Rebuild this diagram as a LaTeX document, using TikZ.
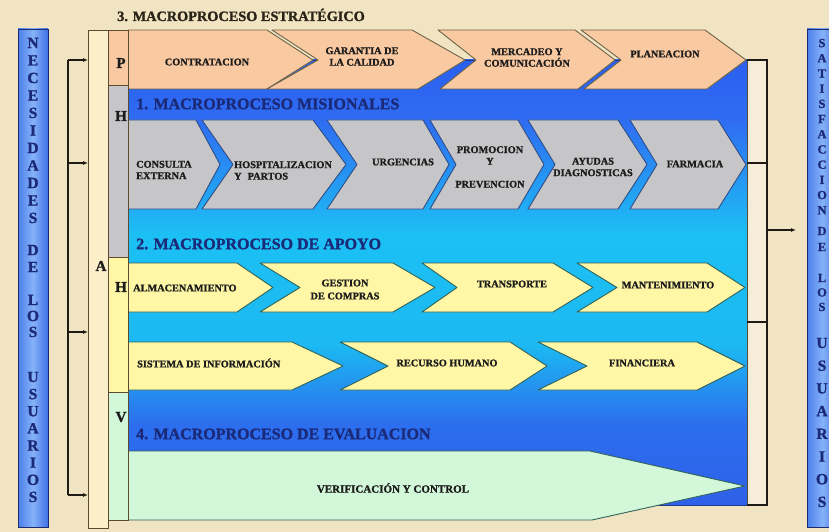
\documentclass[tikz,border=0pt]{standalone}
\usepackage{fontspec}
\setmainfont{Liberation Serif}[BoldFeatures={FakeBold=1.3}]
\usetikzlibrary{arrows.meta}
\definecolor{paper}{HTML}{F1E4C3}
\definecolor{peach}{HTML}{F9C9A1}
\definecolor{grayc}{HTML}{C6C6C8}
\definecolor{yellowc}{HTML}{FFF7A6}
\definecolor{greenc}{HTML}{D2F7D9}
\definecolor{barbeige}{HTML}{FAEFC9}
\definecolor{thinbeige}{HTML}{F5EDD8}
\definecolor{navy}{HTML}{1B2A78}
\definecolor{txtc}{HTML}{1C1C1C}
\definecolor{titlec}{HTML}{2A2418}
\definecolor{oline}{HTML}{6E6448}
\definecolor{gline}{HTML}{2E4C86}
\definecolor{yline}{HTML}{2F6258}
\definecolor{colline}{HTML}{5B4B30}
\definecolor{brkc}{HTML}{1E1A14}
\definecolor{bdark}{HTML}{1E3A8A}
\definecolor{navyline}{HTML}{1D2B6E}
\definecolor{sbl}{HTML}{4C80EC}
\definecolor{sbm}{HTML}{86B2F8}
\definecolor{sbr}{HTML}{3E70E4}
\definecolor{bga}{HTML}{2B5FEF}
\definecolor{bgb}{HTML}{2F6CF2}
\definecolor{bgc}{HTML}{1CC0F4}
\definecolor{bgd}{HTML}{1CB9F2}
\definecolor{bge}{HTML}{2C6EEE}
\definecolor{bgf}{HTML}{2E60E8}
\pgfdeclareverticalshading{bluebg}{100bp}{color(0bp)=(bgf); color(25bp)=(bgf); color(33.99bp)=(bge); color(42.98bp)=(bgd); color(55.34bp)=(bgc); color(68.26bp)=(bgb); color(75bp)=(bga); color(100bp)=(bga)}
\begin{document}
\begin{tikzpicture}[x=1pt,y=-1pt,
  ochev/.style={fill=peach, draw=oline, line width=0.9pt, line join=round},
  gchev/.style={fill=grayc, draw=gline, line width=0.9pt, line join=round},
  ychev/.style={fill=yellowc, draw=yline, line width=0.9pt, line join=round},
  vchev/.style={fill=greenc, draw=yline, line width=0.9pt, line join=round},
  cell/.style={draw=colline, line width=0.8pt},
  lbl/.style={font=\bfseries\fontsize{10.3}{11.5}\selectfont, text=txtc, inner sep=0pt, align=center},
  llbl/.style={lbl, align=left, anchor=west},
  head/.style={font=\bfseries\fontsize{16}{18}\selectfont, text=navy, inner sep=0pt, anchor=west},
  collet/.style={font=\bfseries\fontsize{15}{17}\selectfont, text=txtc, inner sep=0pt},
  vword/.style 2 args={font=\bfseries\fontsize{#1}{#2}\selectfont, text=navy, inner sep=0pt, align=center},
  brk/.style={draw=brkc, line width=1.5pt},
  arr/.style={brk, -{Latex[length=5pt,width=4pt]}},
  sidebar/.style={draw=navyline, line width=0.8pt, left color=sbl, right color=sbr, middle color=sbm, minimum width=30pt, minimum height=498pt, inner sep=0pt, outer sep=0pt},
  narrowbar/.style={fill=barbeige, draw=colline, line width=0.8pt, minimum width=20pt, minimum height=498pt, inner sep=0pt, outer sep=0pt}
]
\useasboundingbox (0,0) rectangle (829,532);
\fill[paper] (0,0) rectangle (829,532);

% blue background of the process area
\shadedraw[shading=bluebg, draw=bdark, line width=0.8pt] (128,60) rectangle (747,505);
% thin frame at right
\filldraw[fill=thinbeige, draw=colline, line width=0.6pt] (747,60) rectangle (767,505);

% strategic row (orange)
\path[ochev] (128,30) -- (267,30) -- (313,60) -- (267,89) -- (128,89) -- cycle;
\path[ochev] (272,30) -- (412,30) -- (465,60) -- (418,89) -- (267,89) -- (318,60) -- cycle;
\path[ochev] (438,30) -- (575,30) -- (615,60) -- (578,89) -- (440,89) -- (476,60) -- cycle;
\path[ochev] (581,30) -- (705,30) -- (746,60) -- (707,89) -- (584,89) -- (621,60) -- cycle;

% misionales row (gray)
\path[gchev] (128,120) -- (196,120) -- (220,164.5) -- (196,209) -- (128,209) -- cycle;
\path[gchev] (202,120) -- (313,120) -- (346,164.5) -- (313,209) -- (202,209) -- (233,164.5) -- cycle;
\path[gchev] (327,120) -- (423,120) -- (449,164.5) -- (423,209) -- (327,209) -- (357,164.5) -- cycle;
\path[gchev] (430,120) -- (518,120) -- (544,164.5) -- (518,209) -- (430,209) -- (456,164.5) -- cycle;
\path[gchev] (528,120) -- (618,120) -- (647,164.5) -- (618,209) -- (528,209) -- (555,164.5) -- cycle;
\path[gchev] (630,120) -- (718,120) -- (746,164.5) -- (718,209) -- (630,209) -- (657,164.5) -- cycle;

% apoyo rows (yellow)
\path[ychev] (128,263) -- (237,263) -- (273,287.5) -- (237,312) -- (128,312) -- cycle;
\path[ychev] (260,263) -- (393,263) -- (435,287.5) -- (393,312) -- (260,312) -- (300,287.5) -- cycle;
\path[ychev] (422,263) -- (553,263) -- (593,287.5) -- (553,312) -- (422,312) -- (457,287.5) -- cycle;
\path[ychev] (577,263) -- (707,263) -- (745,287.5) -- (707,312) -- (577,312) -- (617,287.5) -- cycle;
\path[ychev] (128,342) -- (292,342) -- (343,366) -- (292,390) -- (128,390) -- cycle;
\path[ychev] (340,342) -- (510,342) -- (547,366) -- (510,390) -- (340,390) -- (388,366) -- cycle;
\path[ychev] (538,342) -- (697,342) -- (745,366) -- (697,390) -- (538,390) -- (587,366) -- cycle;

% evaluacion (green)
\path[vchev] (128,451) -- (590,451) -- (745,486) -- (592,520) -- (128,520) -- cycle;

% PHAV column
\filldraw[cell, fill=peach] (108,30) rectangle (128,85);
\filldraw[cell, fill=grayc] (108,85) rectangle (128,257);
\filldraw[cell, fill=yellowc] (108,257) rectangle (128,392);
\filldraw[cell, fill=greenc] (108,392) rectangle (128,520);
\draw[cell] (108,520) -- (128,520);

% narrow bar and side bars
\node[narrowbar] (abar) at (98,279) {};
\node[sidebar] (nbar) at (33,278) {};
\node[sidebar, minimum width=31pt] (sbar) at (822.5,278) {};

% left bracket
\coordinate (lb1) at (68,60);
\coordinate (lb2) at (68,163);
\coordinate (lb3) at (68,332);
\coordinate (lb4) at (68,495);
\draw[brk] (lb1) -- (lb4);
\draw[arr] (lb1) -- (lb1 -| abar.west);
\draw[arr] (lb2) -- (lb2 -| abar.west);
\draw[arr] (lb3) -- (lb3 -| abar.west);
\draw[arr] (lb4) -- (lb4 -| abar.west);

% right bracket
\coordinate (rb1) at (767,60);
\coordinate (rb2) at (767,163);
\coordinate (rb3) at (767,322);
\coordinate (rb4) at (767,505);
\coordinate (rbm) at (767,230);
\coordinate (rarr) at (796,230);
\draw[brk] (747,60) -- (rb1) -- (rb4) -- (747,505);
\draw[brk] (747,163) -- (rb2);
\draw[brk] (747,322) -- (rb3);
\draw[arr] (rbm) -- (rarr);

% column letters
\node[collet] (lp) at (121,63) {P};
\node[collet] (lh1) at (121,116) {H};
\node[collet] (la) at (101,266) {A};
\node[collet] (lh2) at (121,287) {H};
\node[collet] (lv) at (121,417) {V};

% side words
\node[vword={15.5}{17.5}] (w1) at (33,130.5) {N\\E\\C\\E\\S\\I\\D\\A\\D\\E\\S};
\node[vword={15.5}{17}] (w2) at (33,258.5) {D\\E};
\node[vword={15.5}{16}] (w3) at (33,316) {L\\O\\S};
\node[vword={15.5}{17.14}] (w4) at (33,437) {U\\S\\U\\A\\R\\I\\O\\S};
\node[vword={12.5}{15.2}] (s1) at (822,126.6) {S\\A\\T\\I\\S\\F\\A\\C\\C\\I\\O\\N};
\node[vword={12.5}{16}] (s2) at (822,239) {D\\E};
\node[vword={12.5}{14.5}] (s3) at (822,292.5) {L\\O\\S};
\node[vword={15.5}{22.7}] (s4) at (822,422.5) {U\\S\\U\\A\\R\\I\\O\\S};

% title and headings
\node[head, font=\bfseries\fontsize{14.3}{16}\selectfont, text=titlec, anchor=base west] (title) at (117,21) {3. MACROPROCESO ESTRATÉGICO};
\node[head] (h1) at (136,104) {1. MACROPROCESO MISIONALES};
\node[head] (h2) at (136,244) {2. MACROPROCESO DE APOYO};
\node[head] (h4) at (136,434) {4. MACROPROCESO DE EVALUACION};

% labels
\node[lbl] (contratacion) at (207,62) {CONTRATACION};
\node[lbl] (garantia) at (362,56.5) {GARANTIA DE\\LA CALIDAD};
\node[lbl] (mercadeo) at (527,57.5) {MERCADEO Y\\COMUNICACIÓN};
\node[lbl] (planeacion) at (665,54) {PLANEACION};

\node[llbl] (consulta) at (136,170) {CONSULTA\\EXTERNA};
\node[llbl] (hospital) at (234,170.5) {HOSPITALIZACION\\Y\hspace{6pt}PARTOS};
\node[lbl] (urgencias) at (403,162) {URGENCIAS};
\node[lbl] (promocion) at (490,167) {PROMOCION\\Y\\[11.5pt]PREVENCION};
\node[lbl] (ayudas) at (593,167) {AYUDAS\\DIAGNOSTICAS};
\node[lbl] (farmacia) at (695,164) {FARMACIA};

\node[llbl] (almacen) at (133,288) {ALMACENAMIENTO};
\node[lbl] (gestion) at (345,289.5) {GESTION\\[1.5pt]DE COMPRAS};
\node[lbl] (transporte) at (512,284) {TRANSPORTE};
\node[lbl] (mant) at (668,285) {MANTENIMIENTO};
\node[llbl] (sistema) at (137,363) {SISTEMA DE INFORMACIÓN};
\node[lbl] (recurso) at (447,363) {RECURSO HUMANO};
\node[lbl] (financiera) at (642,363) {FINANCIERA};
\node[lbl, font=\bfseries\fontsize{11}{13}\selectfont] (verif) at (393,488) {VERIFICACIÓN Y CONTROL};
\end{tikzpicture}
\end{document}
